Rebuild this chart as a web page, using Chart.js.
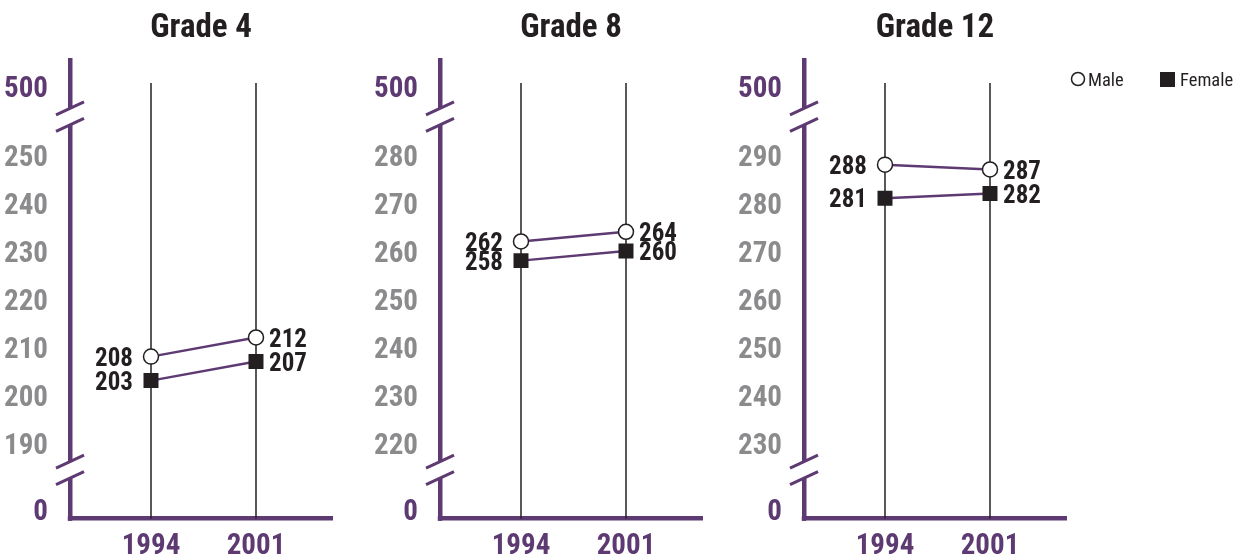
<!DOCTYPE html>
<html>
<head>
<meta charset="utf-8">
<script src="https://cdn.jsdelivr.net/npm/chart.js@4"></script>
<style>
  html, body { margin: 0; padding: 0; background: #fff; }
  #wrap { position: relative; width: 1236px; height: 558px; overflow: hidden; }
  .panel { position: absolute; top: 0; height: 558px; }
</style>
</head>
<body>
<div id="wrap">
  <div class="panel" style="left:0;width:370px"><canvas id="p0"></canvas></div>
  <div class="panel" style="left:370px;width:364px"><canvas id="p1"></canvas></div>
  <div class="panel" style="left:734px;width:502px"><canvas id="p2"></canvas></div>
</div>
<script>
// data
const grades = ['Grade 4', 'Grade 8', 'Grade 12'];
const years = [1994, 2001];
const maleScores = [[208, 212], [262, 264], [288, 287]];
const femaleScores = [[203, 207], [258, 260], [281, 282]];
const tickLow = [190, 220, 230];
const tickHigh = [250, 280, 290];
const breakLabels = ['0', '500'];
const seriesNames = ['Male', 'Female'];

const PURPLE = '#5e3a73';
const GRAY = '#8b8b8d';
const INK = '#231f20';
const FONT = "Roboto, 'Open Sans', sans-serif";
const BOLD = 'bold condensed';   // Chart.js passes weight straight into ctx.font
Chart.defaults.font.family = FONT;

const panelPadRight = [38, 32, 170];

// vertical year lines, value labels, axis breaks, legend
const decor = {
  id: 'decor',
  beforeDatasetsDraw(chart, args, opts) {
    const { ctx, chartArea, scales: { x, y } } = chart;
    const top = y.getPixelForValue(opts.hi + 15);
    ctx.save();
    ctx.strokeStyle = INK;
    ctx.lineWidth = 1.5;
    years.forEach(yr => {
      const px = x.getPixelForValue(yr);
      ctx.beginPath();
      ctx.moveTo(px, top);
      ctx.lineTo(px, chartArea.bottom);
      ctx.stroke();
    });
    ctx.restore();
  },
  afterDatasetsDraw(chart) {
    const ctx = chart.ctx;
    ctx.save();
    ctx.font = BOLD + ' 25px ' + FONT;
    ctx.fillStyle = INK;
    ctx.textBaseline = 'middle';
    chart.data.datasets.forEach((ds, i) => {
      chart.getDatasetMeta(i).data.forEach((pt, j) => {
        const txt = String(ds.data[j].y);
        if (j === 0) {
          ctx.textAlign = 'right';
          ctx.fillText(txt, pt.x - 18, pt.y + 3);
        } else {
          ctx.textAlign = 'left';
          ctx.fillText(txt, pt.x + 13, pt.y + 3);
        }
      });
    });
    ctx.restore();
  },
  afterDraw(chart, args, opts) {
    const { ctx, chartArea, scales: { y } } = chart;
    const ax = chartArea.left;
    ctx.save();
    // close the corner of the two axis lines
    ctx.fillStyle = PURPLE;
    ctx.fillRect(ax - 2.25, chartArea.bottom - 2.25, 4.5, 4.5);
    [opts.hi + 8, opts.lo - 5.6].forEach(v => {
      const yc = y.getPixelForValue(v);
      const u = yc - 8.25, d = yc + 8.25;
      ctx.fillStyle = '#fff';
      ctx.beginPath();
      ctx.moveTo(ax - 4, u + 1.9);
      ctx.lineTo(ax + 4, u - 1.9);
      ctx.lineTo(ax + 4, d - 1.9);
      ctx.lineTo(ax - 4, d + 1.9);
      ctx.closePath();
      ctx.fill();
      ctx.strokeStyle = PURPLE;
      ctx.lineWidth = 3;
      [u, d].forEach(c => {
        ctx.beginPath();
        ctx.moveTo(ax - 14, c + 6.5);
        ctx.lineTo(ax + 14, c - 6.5);
        ctx.stroke();
      });
    });
    if (opts.legend) {
      const ly = 80;
      const lx = chartArea.right + 12;
      ctx.font = 'condensed 18.5px ' + FONT;
      ctx.textBaseline = 'middle';
      ctx.textAlign = 'left';
      ctx.beginPath();
      ctx.arc(lx, ly - 1, 6.5, 0, Math.PI * 2);
      ctx.fillStyle = '#fff';
      ctx.fill();
      ctx.strokeStyle = INK;
      ctx.lineWidth = 1.5;
      ctx.stroke();
      ctx.fillStyle = INK;
      ctx.fillText(seriesNames[0], lx + 10, ly + 1);
      ctx.fillRect(lx + 82, ly - 8, 15, 15);
      ctx.fillText(seriesNames[1], lx + 102, ly + 1);
    }
    ctx.restore();
  }
};

grades.forEach((title, p) => {
  const lo = tickLow[p], hi = tickHigh[p];
  const yTicks = [lo - 13.7];
  for (let v = lo; v <= hi; v += 10) yTicks.push(v);
  yTicks.push(hi + 14.4);
  const last = yTicks.length - 1;

  new Chart(document.getElementById('p' + p), {
    type: 'line',
    data: {
      datasets: [
        {
          label: seriesNames[0],
          data: maleScores[p].map((v, i) => ({ x: years[i], y: v })),
          borderColor: PURPLE,
          borderWidth: 2.5,
          pointStyle: 'circle',
          pointRadius: 7.5,
          pointBackgroundColor: '#fff',
          pointBorderColor: INK,
          pointBorderWidth: 1.5
        },
        {
          label: seriesNames[1],
          data: femaleScores[p].map((v, i) => ({ x: years[i], y: v })),
          borderColor: PURPLE,
          borderWidth: 2.5,
          pointStyle: 'rect',
          pointRadius: 10.6,
          pointBackgroundColor: INK,
          pointBorderColor: INK,
          pointBorderWidth: 0
        }
      ]
    },
    options: {
      responsive: true,
      maintainAspectRatio: false,
      animation: false,
      layout: { padding: { left: 0, right: panelPadRight[p], top: 0, bottom: 0 } },
      plugins: {
        legend: { display: false },
        tooltip: { enabled: false },
        title: {
          display: true,
          text: title,
          fullSize: false,
          color: INK,
          font: { size: 33, weight: BOLD },
          padding: { top: 9, bottom: 11.4 }
        },
        decor: { lo: lo, hi: hi, legend: p === 2 }
      },
      scales: {
        x: {
          type: 'linear',
          min: 1988.6,
          max: 2006.067,
          afterBuildTicks: s => { s.ticks = years.map(v => ({ value: v })); },
          afterFit: s => { s.height = 37; },
          grid: { display: false, drawTicks: false },
          border: { display: true, color: PURPLE, width: 4.5 },
          ticks: {
            padding: 11,
            autoSkip: false,
            maxRotation: 0,
            color: PURPLE,
            font: { size: 29, weight: BOLD },
            callback: v => String(v)
          }
        },
        y: {
          min: lo - 15.75,
          max: hi + 19.8,
          afterBuildTicks: s => { s.ticks = yTicks.map(v => ({ value: v })); },
          afterFit: s => { s.width = 70; },
          grid: { display: false, drawTicks: false },
          border: { display: true, color: PURPLE, width: 4.5 },
          ticks: {
            padding: 22,
            labelOffset: 4,
            autoSkip: false,
            color: c => (c.index === 0 || c.index === last) ? PURPLE : GRAY,
            font: { size: 29, weight: BOLD },
            callback: (v, i) => i === 0 ? breakLabels[0] : (i === last ? breakLabels[1] : String(v))
          }
        }
      }
    },
    plugins: [decor]
  });
});
</script>
</body>
</html>
